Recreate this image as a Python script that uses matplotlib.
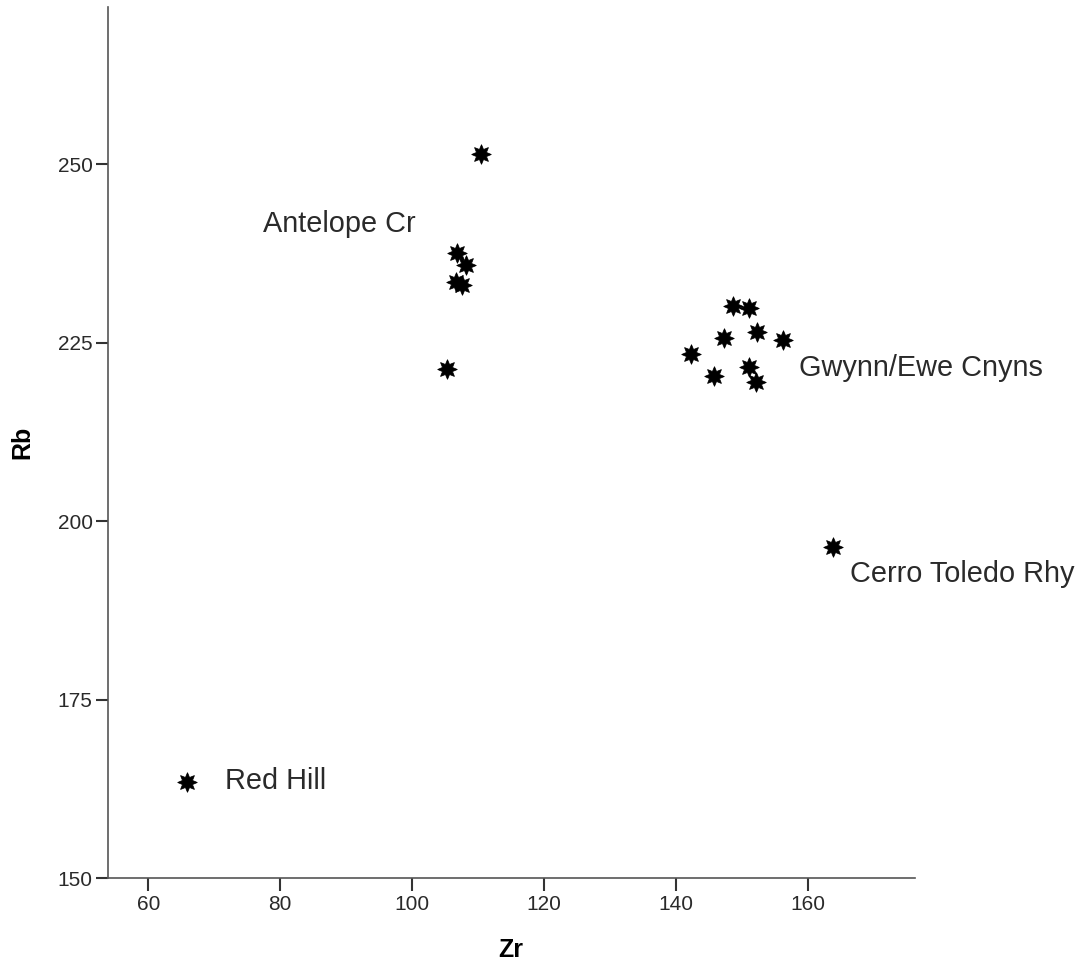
import matplotlib
matplotlib.use("Agg")
import matplotlib.pyplot as plt
from matplotlib.path import Path

plt.rcParams['font.family'] = ['Liberation Sans', 'DejaVu Sans']

zr = [110.4, 106.8, 108.2, 106.7, 107.6, 105.3,
      148.6, 151.1, 152.3, 147.3, 156.2, 142.3, 145.8, 151.1, 152.1,
      163.8, 65.8]
rb = [251.4, 237.5, 235.9, 233.5, 233.0, 221.3,
      230.1, 229.8, 226.5, 225.6, 225.3, 223.4, 220.3, 221.6, 219.5,
      196.4, 163.4]

label_text = ["Antelope Cr", "Gwynn/Ewe Cnyns", "Cerro Toledo Rhy", "Red Hill"]
label_x = [77.4, 158.6, 166.4, 71.7]
label_y = [241.6, 221.4, 192.6, 163.6]

xticks = [60, 80, 100, 120, 140, 160]
yticks = [150, 175, 200, 225, 250]

fig = plt.figure(figsize=(10.86, 9.71), dpi=100)
ax = fig.add_axes([108/1086, 93/971, (915-108)/1086, (878-7)/971])

star = Path.unit_regular_star(8, 0.55)
ax.scatter(zr, rb, marker=star, s=14**2, color='black', linewidths=0.6,
           edgecolors='black', zorder=3, clip_on=False)

for t, x, y in zip(label_text, label_x, label_y):
    ax.text(x, y, t, fontsize=20.8, color='#2a2a2a', ha='left', va='center')

ax.set_xlim(53.9, 176.2)
ax.set_ylim(150, 272)
ax.set_xticks(xticks)
ax.set_yticks(yticks)
ax.tick_params(axis='both', direction='out', length=9, width=1.5, color='#333333',
               labelsize=15, labelcolor='#2a2a2a')
ax.tick_params(axis='x', pad=3.5)
ax.tick_params(axis='y', pad=2)
for side in ['top', 'right']:
    ax.spines[side].set_visible(False)
for side in ['left', 'bottom']:
    ax.spines[side].set_color('#555555')
    ax.spines[side].set_linewidth(1.2)

ax.set_xlabel('Zr', fontsize=18, fontweight='bold')
ax.xaxis.set_label_coords((511-108)/807, (878-950)/871)
ax.xaxis.label.set_va('center')
ax.set_ylabel('Rb', fontsize=18, fontweight='bold')
ax.yaxis.set_label_coords((22-108)/807, (878-442)/871)
ax.yaxis.label.set_va('center')

fig.savefig('out.png', dpi=100, facecolor='white')
